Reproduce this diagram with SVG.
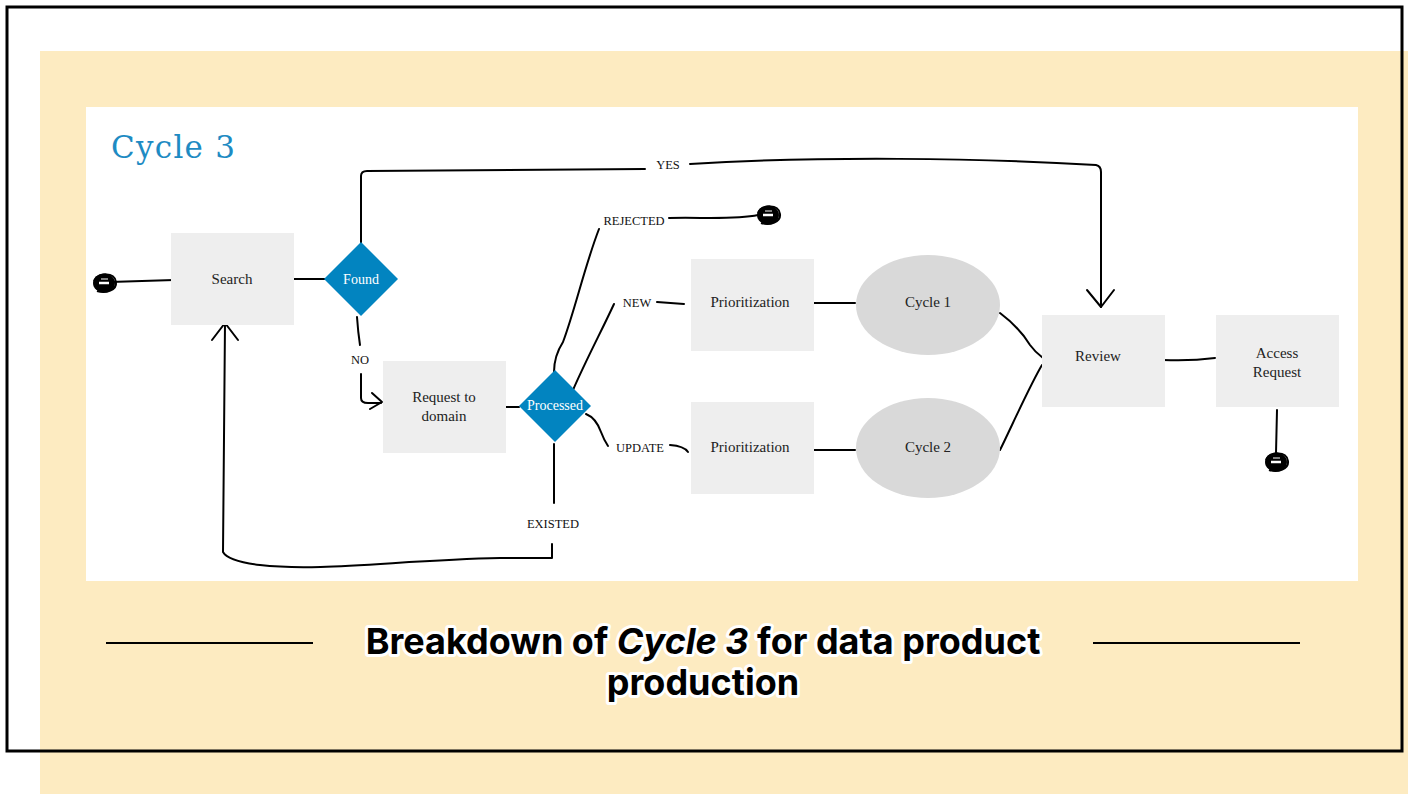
<svg xmlns="http://www.w3.org/2000/svg" width="1408" height="794" viewBox="0 0 1408 794">
  <style>
    .box { fill: #eeeeee; }
    .oval { fill: #d9d9d9; }
    .dia { fill: #0284c0; }
    .lbl { font-family: "Liberation Serif", "DejaVu Serif", serif; font-size: 15px; fill: #222; text-anchor: middle; }
    .dlbl { font-family: "Liberation Serif", "DejaVu Serif", serif; font-size: 14px; fill: #ffffff; text-anchor: middle; }
    .elbl { font-family: "Liberation Serif", "DejaVu Serif", serif; font-size: 12.5px; fill: #111; text-anchor: middle; }
    .wire { fill: none; stroke: #000; stroke-width: 2; stroke-linecap: round; stroke-linejoin: round; }
    .title { font-family: "Inter", "Open Sans", "Liberation Sans", sans-serif; font-size: 36px; font-weight: 700; fill: #000; text-anchor: middle; stroke: #fff; stroke-width: 6px; stroke-linejoin: round; paint-order: stroke; }
  </style>
  <defs>
    <!-- scribbled terminal dot -->
    <g id="term">
      <ellipse cx="0" cy="0" rx="11" ry="9.5" fill="#000"/>
      <path d="M-10,-2 C-5,-11 11,-11 12,-1 C13,7 2,11 -7,8" fill="none" stroke="#000" stroke-width="2"/>
      <path d="M-5,0 L5,0" stroke="#fff" stroke-width="2.5"/>
      <path d="M-3,-4 L4,-4" stroke="#fff" stroke-width="1"/>
    </g>
  </defs>

  <!-- page background -->
  <rect x="0" y="0" width="1408" height="794" fill="#ffffff"/>
  <rect x="40" y="51" width="1368" height="743" fill="#fdebc1"/>
  <rect x="7" y="7" width="1395" height="744" fill="none" stroke="#000" stroke-width="3"/>
  <rect x="86" y="107" width="1272" height="474" fill="#ffffff"/>

  <text x="111" y="158" font-family="'DejaVu Serif', 'Liberation Serif', serif" font-size="31" fill="#1e8bc3" textLength="124">Cycle 3</text>

  <!-- connectors -->
  <g id="connectors">
    <path class="wire" d="M110,282 L174,280"/>
    <path class="wire" d="M292,279 L325,279"/>
    <!-- YES -->
    <path class="wire" d="M361,243 L361,176 Q361,171 367,171 L645,169"/>
    <path class="wire" d="M690,164 C820,156 980,158 1096,165 Q1101,166 1101,172 L1101,307"/>
    <path class="wire" d="M1087,290 L1101,307 L1114,290"/>
    <!-- NO -->
    <path class="wire" d="M357,317 Q358,332 360,345"/>
    <path class="wire" d="M361,374 L361,398 Q361,403 368,403 L381,403"/>
    <path class="wire" d="M372,393 L382,402 L370,409"/>
    <path class="wire" d="M505,407 L519,407"/>
    <!-- REJECTED -->
    <path class="wire" d="M554,372 Q554,356 563,342 C575,310 585,265 599,229"/>
    <path class="wire" d="M669,218 C700,217 735,220 758,215"/>
    <!-- NEW -->
    <path class="wire" d="M573,390 C586,360 602,330 614,304"/>
    <path class="wire" d="M657,302 L684,304"/>
    <!-- UPDATE -->
    <path class="wire" d="M586,414 Q596,418 601,432 Q604,440 608,446"/>
    <path class="wire" d="M670,445 Q684,446 688,452"/>
    <!-- EXISTED -->
    <path class="wire" d="M554,444 L554,503"/>
    <path class="wire" d="M552,544 L552,558 L500,558 C400,560 320,572 260,565 Q228,561 223,552 L225,323"/>
    <path class="wire" d="M212,340 L225,323 L238,340"/>
    <!-- cycles -->
    <path class="wire" d="M814,303 L855,303"/>
    <path class="wire" d="M814,450 L855,450"/>
    <path class="wire" d="M1000,313 C1012,322 1022,332 1030,345 Q1035,352 1043,358"/>
    <path class="wire" d="M1000,450 C1010,430 1030,385 1042,365"/>
    <path class="wire" d="M1163,360 C1185,361 1200,360 1215,358"/>
    <path class="wire" d="M1277,410 L1276,453"/>
  </g>

  <!-- connector labels -->
  <text class="elbl" x="668" y="169">YES</text>
  <text class="elbl" x="634" y="225">REJECTED</text>
  <text class="elbl" x="637" y="307">NEW</text>
  <text class="elbl" x="360" y="364">NO</text>
  <text class="elbl" x="640" y="452">UPDATE</text>
  <text class="elbl" x="553" y="528">EXISTED</text>

  <!-- terminals -->
  <use id="start" href="#term" x="104" y="283"/>
  <use id="end-rejected" href="#term" x="768" y="215"/>
  <use id="end-access" href="#term" x="1276" y="462"/>

  <g id="search">
    <rect class="box" x="171" y="233" width="123" height="92"/>
    <text class="lbl" x="232" y="284">Search</text>
  </g>
  <g id="found">
    <polygon class="dia" points="361,242 398,279 361,316 324,279"/>
    <text class="dlbl" x="361" y="284">Found</text>
  </g>
  <g id="request">
    <rect class="box" x="383" y="361" width="123" height="92"/>
    <text class="lbl" x="444" y="402">Request to</text>
    <text class="lbl" x="444" y="421">domain</text>
  </g>
  <g id="processed">
    <polygon class="dia" points="555,370 591,406 555,442 519,406"/>
    <text class="dlbl" x="555" y="410" font-size="11">Processed</text>
  </g>
  <g id="prio1">
    <rect class="box" x="691" y="259" width="123" height="92"/>
    <text class="lbl" x="750" y="307">Prioritization</text>
  </g>
  <g id="prio2">
    <rect class="box" x="691" y="402" width="123" height="92"/>
    <text class="lbl" x="750" y="452">Prioritization</text>
  </g>
  <g id="cycle1">
    <ellipse class="oval" cx="928" cy="305" rx="72" ry="50"/>
    <text class="lbl" x="928" y="307">Cycle 1</text>
  </g>
  <g id="cycle2">
    <ellipse class="oval" cx="928" cy="448" rx="72" ry="50"/>
    <text class="lbl" x="928" y="452">Cycle 2</text>
  </g>
  <g id="review">
    <rect class="box" x="1042" y="315" width="123" height="92"/>
    <text class="lbl" x="1098" y="361">Review</text>
  </g>
  <g id="access">
    <rect class="box" x="1216" y="315" width="123" height="92"/>
    <text class="lbl" x="1277" y="358">Access</text>
    <text class="lbl" x="1277" y="377">Request</text>
  </g>

  <!-- caption -->
  <path d="M106,643 L313,643 M1093,643 L1300,643" stroke="#000" stroke-width="2"/>
  <text class="title" x="703" y="654">Breakdown of <tspan font-style="italic">Cycle 3</tspan> for data product</text>
  <text class="title" x="703" y="695">production</text>
</svg>
